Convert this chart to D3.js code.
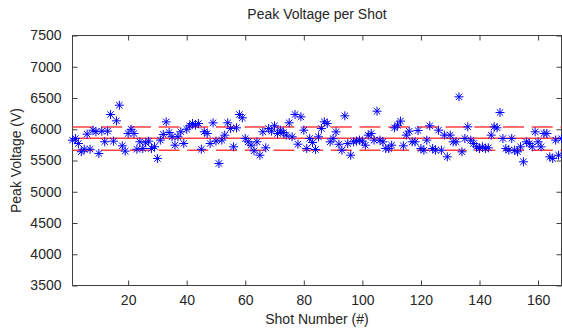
<!DOCTYPE html>
<html>
<head>
<meta charset="utf-8">
<script src="https://cdn.jsdelivr.net/npm/d3@7"></script>
<style>
  body { margin: 0; background: #fff; }
  text { font-family: "Liberation Sans", Arial, sans-serif; fill: #262626; }
</style>
</head>
<body>
<svg></svg>
<script>
const w = 562;
const h = 331;

// peak voltage per shot (V), shots 1..168
const voltages = [
  5825, 5852, 5772, 5640, 5680, 5922, 5680, 5985, 5960, 5612,
  5970, 5800, 5970, 6236, 5810, 6135, 6385, 5735, 5650, 5932,
  6000, 5932, 5680, 5800, 5692, 5783, 5810, 5692, 5720, 5532,
  5826, 5916, 6118, 5948, 5880, 5745, 5880, 5960, 5772, 6000,
  6055, 6092, 6065, 6092, 5680, 5960, 5932, 5772, 6103, 5810,
  5452, 5826, 5906, 6103, 6012, 5719, 6023, 6236, 6183, 5852,
  5799, 5745, 5655, 5799, 5585, 5959, 5703, 6012, 5969, 6055,
  5932, 5985, 5948, 5905, 6103, 5879, 6236, 5761, 6199, 5985,
  5692, 5852, 5788, 5676, 5879, 6012, 6119, 6092, 5799, 5850,
  5959, 5760, 5665, 6215, 5772, 5585, 5799, 5810, 5826, 5810,
  5745, 5905, 5932, 5826, 6289, 5826, 5799, 5692, 5692, 5745,
  6023, 6065, 6130, 5735, 5906, 5969, 5799, 5799, 5980, 5692,
  5665, 5826, 6055, 5692, 5665, 5985, 5665, 5906, 5559, 5906,
  5799, 5799, 6519, 5639, 5852, 6039, 5826, 5772, 5720, 5692,
  5719, 5692, 5703, 5906, 6039, 6023, 6268, 5852, 5692, 5665,
  5852, 5665, 5639, 5719, 5479, 5799, 5772, 5719, 5959, 5799,
  5719, 5932, 5932, 5559, 5532, 5826, 5585, 5850
];
const shots = voltages.map((v, i) => i + 1);

// red reference lines: mean (solid) and +/- one std (dashed)
const meanLine = 5855;
const bandLines = [6035, 5665];

const xTicks = [20, 40, 60, 80, 100, 120, 140, 160];
const yTicks = [3500, 4000, 4500, 5000, 5500, 6000, 6500, 7000, 7500];

const pLeft = 72.5, pRight = 561.5, pTop = 35.5, pBottom = 285.5;

const svg = d3.select('svg').attr('width', w).attr('height', h);

const x = d3.scaleLinear().domain([1, 168]).range([pLeft, pRight]);
const y = d3.scaleLinear().domain([3500, 7500]).range([pBottom, pTop]);

// axes, ticks pointing inwards
const bottomAxis = svg.append('g')
  .attr('transform', `translate(0,${pBottom})`)
  .call(d3.axisBottom(x).tickValues(xTicks).tickSize(-5).tickPadding(10).tickFormat(d3.format('d')));
const topAxis = svg.append('g')
  .attr('transform', `translate(0,${pTop})`)
  .call(d3.axisTop(x).tickValues(xTicks).tickSize(-5).tickFormat(''));
const leftAxis = svg.append('g')
  .attr('transform', `translate(${pLeft},0)`)
  .call(d3.axisLeft(y).tickValues(yTicks).tickSize(-5).tickPadding(11).tickFormat(d3.format('d')));
const rightAxis = svg.append('g')
  .attr('transform', `translate(${pRight},0)`)
  .call(d3.axisRight(y).tickValues(yTicks).tickSize(-5).tickFormat(''));

[bottomAxis, topAxis, leftAxis, rightAxis].forEach(g => {
  g.select('.domain').remove();
  g.selectAll('.tick line').attr('stroke', '#404040');
  g.selectAll('.tick text').style('font-size', '14px').attr('fill', '#262626');
});

svg.append('rect')
  .attr('x', pLeft).attr('y', pTop)
  .attr('width', pRight - pLeft).attr('height', pBottom - pTop)
  .attr('fill', 'none')
  .attr('stroke', '#404040')
  .attr('stroke-width', 1);

// reference lines
svg.append('line')
  .attr('x1', x(1)).attr('x2', x(168))
  .attr('y1', y(meanLine)).attr('y2', y(meanLine))
  .attr('stroke', '#ff4040')
  .attr('stroke-width', 1.5);

svg.selectAll('.band')
  .data(bandLines)
  .enter()
  .append('line')
  .attr('class', 'band')
  .attr('x1', x(1)).attr('x2', x(168))
  .attr('y1', d => y(d)).attr('y2', d => y(d))
  .attr('stroke', '#ff4040')
  .attr('stroke-width', 1.5)
  .attr('stroke-dasharray', '21,7.7');

// asterisk markers
const r = 4.5, dg = 3.2;
const star = `M${-r},0H${r}M0,${-r}V${r}M${-dg},${-dg}L${dg},${dg}M${-dg},${dg}L${dg},${-dg}`;

svg.selectAll('.pt')
  .data(voltages)
  .enter()
  .append('path')
  .attr('class', 'pt')
  .attr('transform', (d, i) => `translate(${x(shots[i])},${y(d)})`)
  .attr('d', star)
  .attr('stroke', '#0000ff')
  .attr('stroke-width', 1)
  .attr('fill', 'none');

// titles
svg.append('text')
  .attr('x', (pLeft + pRight) / 2)
  .attr('y', 19)
  .attr('text-anchor', 'middle')
  .style('font-size', '14px')
  .text('Peak Voltage per Shot');

svg.append('text')
  .attr('x', (pLeft + pRight) / 2)
  .attr('y', 324)
  .attr('text-anchor', 'middle')
  .style('font-size', '14px')
  .text('Shot Number (#)');

svg.append('text')
  .attr('transform', `translate(21,${(pTop + pBottom) / 2}) rotate(-90)`)
  .attr('text-anchor', 'middle')
  .style('font-size', '14px')
  .text('Peak Voltage (V)');
</script>
</body>
</html>
